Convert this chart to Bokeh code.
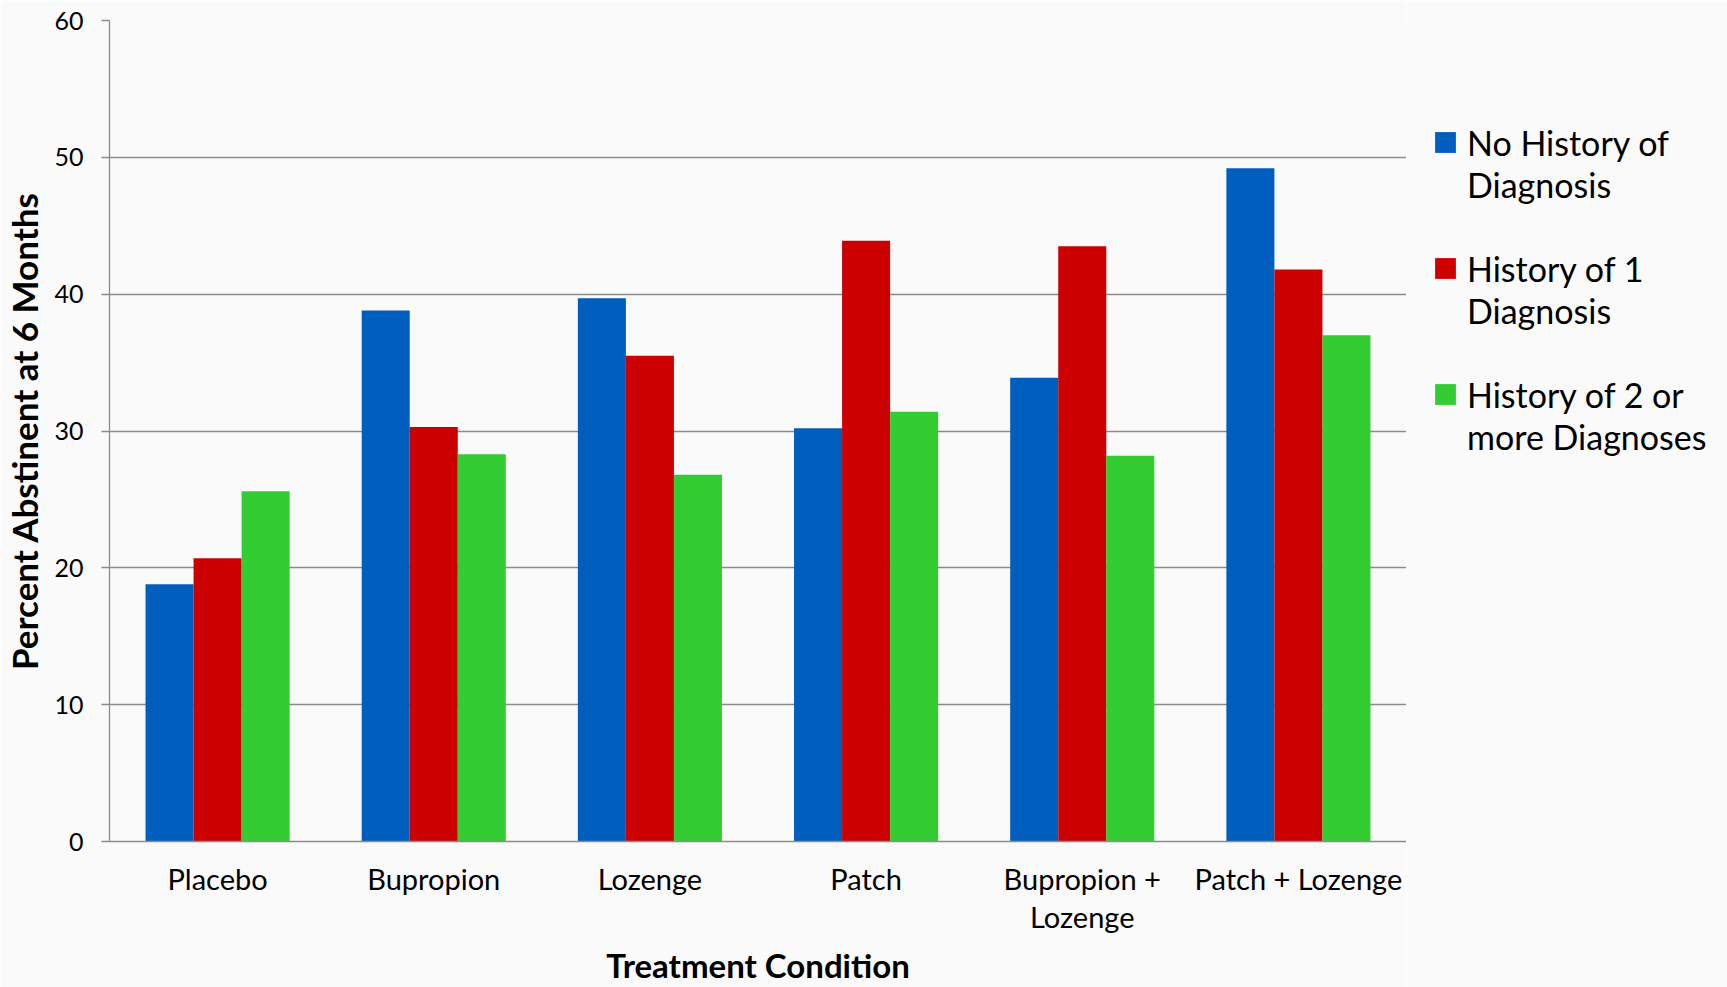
from bokeh.plotting import figure
from bokeh.layouts import row
from bokeh.models import (ColumnDataSource, FactorRange, Legend, LegendItem, Range1d,
                          FixedTicker, CategoricalAxis, CustomJSTickFormatter)
from bokeh.transform import dodge
from bokeh.embed import file_html
from bokeh.resources import INLINE

categories = ["Placebo", "Bupropion", "Lozenge", "Patch", "Bupropion + Lozenge", "Patch + Lozenge"]
tick_line1 = ["Placebo", "Bupropion", "Lozenge", "Patch", "Bupropion +", "Patch + Lozenge"]
tick_line2 = ["", "", "", "", "Lozenge", ""]
no_history = [18.8, 38.8, 39.7, 30.2, 33.9, 49.2]
history_1 = [20.7, 30.3, 35.5, 43.9, 43.5, 41.8]
history_2plus = [25.6, 28.3, 26.8, 31.4, 28.2, 37.0]
series_line1 = ["No History of", "History of 1", "History of 2 or"]
series_line2 = ["Diagnosis", "Diagnosis", "more Diagnoses"]
y_ticks = [0, 10, 20, 30, 40, 50, 60]

colors = ["#005EBF", "#CC0000", "#33CC33"]
FONT = "Lato"
BG = "#fafafa"
GRID = "#8c8c8c"

src = ColumnDataSource(dict(cat=categories, s0=no_history, s1=history_1, s2=history_2plus))

p = figure(width=1406, height=987, x_range=FactorRange(*categories, range_padding=0),
           y_range=Range1d(0, 60), output_backend="svg", toolbar_location=None,
           min_border_left=108, min_border_right=0, min_border_top=20, min_border_bottom=0,
           background_fill_color=BG, border_fill_color=BG, outline_line_color=None)

bw = 1 / 4.5
for i, key in enumerate(["s0", "s1", "s2"]):
    p.vbar(x=dodge("cat", (i - 1) * bw, range=p.x_range), top=key, width=bw,
           source=src, fill_color=colors[i], line_color=None)

p.xgrid.grid_line_color = None
p.ygrid.grid_line_color = GRID
p.ygrid.grid_line_width = 1.3
p.ygrid.ticker = FixedTicker(ticks=y_ticks)

p.yaxis.ticker = FixedTicker(ticks=y_ticks)
p.yaxis.axis_line_color = GRID
p.yaxis.axis_line_width = 1.3
p.yaxis.major_tick_line_color = GRID
p.yaxis.major_tick_line_width = 1.3
p.yaxis.major_tick_out = 8
p.yaxis.major_tick_in = 0
p.yaxis.minor_tick_line_color = None
p.yaxis.major_label_standoff = 18
p.yaxis.major_label_text_font = FONT
p.yaxis.major_label_text_font_size = "25px"
p.yaxis.major_label_text_color = "black"
p.yaxis.axis_label = "Percent Abstinent at 6 Months"
p.yaxis.axis_label_text_font = FONT
p.yaxis.axis_label_text_font_size = "35px"
p.yaxis.axis_label_text_font_style = "bold"
p.yaxis.axis_label_text_color = "black"
p.yaxis.axis_label_standoff = 6

fmt_code = "const i = cats.indexOf(tick); return i >= 0 ? labs[i] : tick;"

xa = p.xaxis[0]
xa.formatter = CustomJSTickFormatter(args=dict(cats=categories, labs=tick_line1), code=fmt_code)
xa.axis_line_color = GRID
xa.axis_line_width = 1.3
xa.major_tick_line_color = None
xa.minor_tick_line_color = None
xa.major_tick_out = 0
xa.major_tick_in = 0
xa.major_label_standoff = 19
xa.major_label_text_font = FONT
xa.major_label_text_font_size = "29px"
xa.major_label_text_color = "black"

xa2 = CategoricalAxis(formatter=CustomJSTickFormatter(args=dict(cats=categories, labs=tick_line2), code=fmt_code),
                      axis_line_color=None, major_tick_line_color=None, minor_tick_line_color=None,
                      major_tick_out=0, major_tick_in=0, major_label_standoff=0,
                      major_label_text_font=FONT, major_label_text_font_size="29px",
                      major_label_text_color="black",
                      axis_label="Treatment Condition", axis_label_text_font=FONT,
                      axis_label_text_font_size="33px", axis_label_text_font_style="bold",
                      axis_label_text_color="black", axis_label_standoff=8)
p.add_layout(xa2, "below")

# legend panel to the right of the chart
pl = figure(width=321, height=987, x_range=Range1d(0, 1), y_range=Range1d(0, 1),
            output_backend="svg", toolbar_location=None,
            min_border_left=0, min_border_right=0, min_border_top=0, min_border_bottom=0,
            background_fill_color=BG, border_fill_color=BG, outline_line_color=None)
pl.axis.visible = False
pl.grid.visible = False

# zero-height swatch renderers that only feed the legend
swatches = [pl.vbar(x=[0.5], top=[0], bottom=[0], width=0.1, fill_color=c, line_color=None)
            for c in colors]
blank = pl.vbar(x=[0.5], top=[0], bottom=[0], width=0.1, fill_alpha=0, line_alpha=0)

items = []
for i in range(3):
    items.append(LegendItem(label=series_line1[i], renderers=[swatches[i]]))
    items.append(LegendItem(label=series_line2[i], renderers=[blank]))
    if i < 2:
        items.append(LegendItem(label=" ", renderers=[blank]))

legend = Legend(items=items, location=(26, 384), orientation="vertical")
legend.label_text_font = FONT
legend.label_text_font_size = "34px"
legend.label_text_color = "black"
legend.label_height = 42
legend.glyph_width = 26
legend.glyph_height = 26
legend.spacing = 0
legend.padding = 0
legend.margin = 0
legend.label_standoff = 9
legend.background_fill_alpha = 0
legend.border_line_color = None
pl.add_layout(legend, "center")

layout = row(p, pl, spacing=0)
open("out.html", "w").write(file_html(layout, INLINE))
